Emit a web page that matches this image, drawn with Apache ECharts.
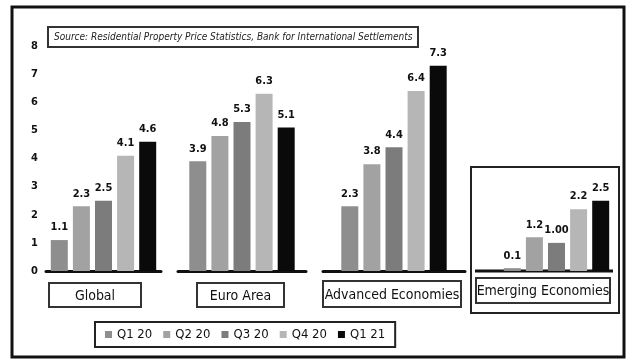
<!DOCTYPE html>
<html>
<head>
<meta charset="utf-8">
<script src="https://cdn.jsdelivr.net/npm/echarts@6/dist/echarts.min.js"></script>
<style>
  html, body { margin: 0; padding: 0; background: #fff; }
  #chart { width: 629px; height: 361px; }
</style>
</head>
<body>
<div id="chart"></div>
<script>
var quarters = ['Q1 20', 'Q2 20', 'Q3 20', 'Q4 20', 'Q1 21'];
var groups = ['Global', 'Euro Area', 'Advanced Economies', 'Emerging Economies'];
var globalVals = [1.1, 2.3, 2.5, 4.1, 4.6];
var euroVals = [3.9, 4.8, 5.3, 6.3, 5.1];
var advancedVals = [2.3, 3.8, 4.4, 6.4, 7.3];
var emergingVals = [0.1, 1.2, 1.0, 2.2, 2.5];
var emergingText = ['0.1', '1.2', '1.00', '2.2', '2.5'];
var yTicks = [0, 1, 2, 3, 4, 5, 6, 7, 8];

var colors = ['#8e8e8e', '#a2a2a2', '#7c7c7c', '#b6b6b6', '#0a0a0a'];
var FONT = '"DejaVu Sans Condensed", "Liberation Sans Narrow", sans-serif';
var allVals = [globalVals, euroVals, advancedVals, emergingVals];

// one grid per group
var gridPos = [
  { left: 46, width: 115 },
  { left: 178, width: 128 },
  { left: 323, width: 142 },
  { left: 500, width: 113 }
];

var grids = [], xAxes = [], yAxes = [], series = [];
gridPos.forEach(function (p, g) {
  grids.push({ left: p.left, width: p.width, top: 46, bottom: 90 });
  xAxes.push({
    type: 'category',
    gridIndex: g,
    data: [groups[g]],
    axisLine: { show: g !== 3, lineStyle: { color: '#111', width: 3 } },
    axisTick: { show: false },
    axisLabel: { show: false }
  });
  yAxes.push({
    type: 'value',
    gridIndex: g,
    min: yTicks[0],
    max: yTicks[yTicks.length - 1],
    interval: 1,
    axisLine: { show: false },
    axisTick: { show: false },
    splitLine: { show: false },
    axisLabel: {
      show: g === 0,
      margin: 8,
      color: '#111',
      fontSize: 11,
      fontWeight: 'bold',
      fontFamily: FONT
    }
  });
  quarters.forEach(function (q, i) {
    series.push({
      name: q,
      type: 'bar',
      xAxisIndex: g,
      yAxisIndex: g,
      barWidth: 17,
      barGap: '30%',
      itemStyle: { color: colors[i] },
      label: {
        show: true,
        position: 'top',
        distance: 7,
        color: '#111',
        fontSize: 11,
        fontWeight: 'bold',
        fontFamily: FONT,
        formatter: function (p) {
          return g === 3 ? emergingText[i] : p.value.toFixed(1);
        }
      },
      data: [allVals[g][i]]
    });
  });
});

// category label boxes
var boxes = [
  { x: 49, y: 283, w: 92, h: 24 },
  { x: 197, y: 283, w: 87, h: 24 },
  { x: 323, y: 281, w: 138, h: 26 },
  { x: 476, y: 278, w: 134, h: 25 }
];
var graphic = [
  { type: 'rect', shape: { x: 12, y: 7, width: 612, height: 350 },
    style: { fill: 'none', stroke: '#111', lineWidth: 3 } },
  { type: 'rect', shape: { x: 471, y: 167, width: 148, height: 146 },
    style: { fill: 'none', stroke: '#222', lineWidth: 2 } },
  { type: 'line', shape: { x1: 475, y1: 271, x2: 613, y2: 271 },
    style: { stroke: '#111', lineWidth: 3 } }
];
boxes.forEach(function (b, g) {
  graphic.push({ type: 'rect', shape: { x: b.x, y: b.y, width: b.w, height: b.h },
    style: { fill: '#fff', stroke: '#333', lineWidth: 2 } });
  graphic.push({ type: 'text', x: b.x + b.w / 2, y: b.y + b.h / 2 + 1,
    style: { text: groups[g], fill: '#111', font: '14px ' + FONT,
      align: 'center', verticalAlign: 'middle' } });
});

var chart = echarts.init(document.getElementById('chart'));
chart.setOption({
  animation: false,
  backgroundColor: '#fff',
  title: {
    text: 'Source: Residential Property Price Statistics, Bank for International Settlements',
    left: 48,
    top: 27,
    padding: [5, 6],
    borderColor: '#333',
    borderWidth: 2,
    textStyle: { color: '#222', fontSize: 10, fontStyle: 'italic', fontWeight: 'normal', fontFamily: FONT }
  },
  legend: {
    data: quarters,
    left: 95,
    top: 322,
    icon: 'rect',
    itemWidth: 7,
    itemHeight: 7,
    itemGap: 11,
    padding: [6, 10],
    borderColor: '#222',
    borderWidth: 2,
    textStyle: { color: '#111', fontSize: 13, fontFamily: FONT }
  },
  grid: grids,
  xAxis: xAxes,
  yAxis: yAxes,
  series: series,
  graphic: graphic
});
</script>
</body>
</html>
